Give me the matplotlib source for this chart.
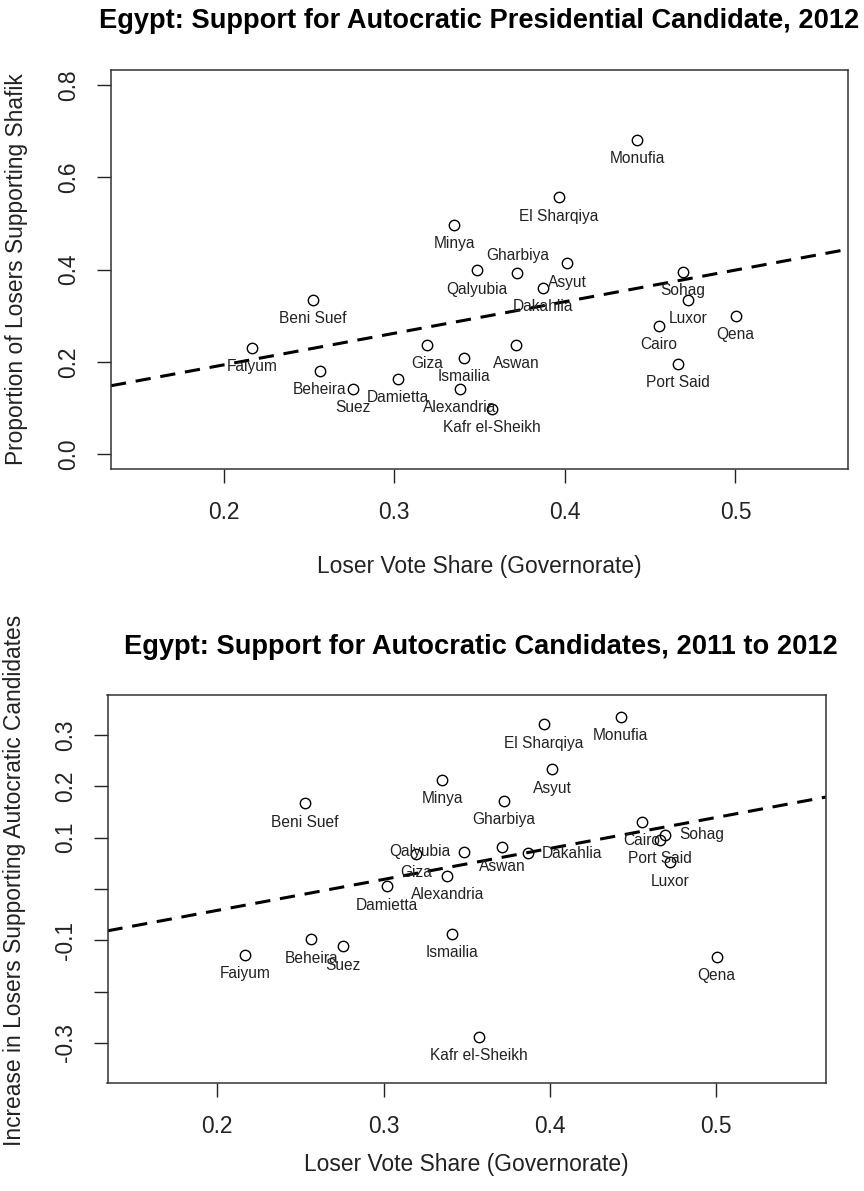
import numpy as np
import matplotlib.pyplot as plt

plt.rcParams['font.family'] = ['Liberation Sans', 'DejaVu Sans']

# %% governorate data
names = ['Faiyum', 'Beni Suef', 'Beheira', 'Suez', 'Damietta', 'Giza', 'Ismailia',
         'Alexandria', 'Kafr el-Sheikh', 'Aswan', 'Minya', 'Qalyubia', 'Gharbiya',
         'Dakahlia', 'Asyut', 'El Sharqiya', 'Monufia', 'Sohag', 'Luxor', 'Cairo',
         'Qena', 'Port Said']
loser_share = [0.2165, 0.2525, 0.2565, 0.2758, 0.3022, 0.3193, 0.3411,
               0.3383, 0.3571, 0.3714, 0.3353, 0.3483, 0.3722,
               0.3870, 0.4013, 0.3964, 0.4426, 0.4693, 0.4725, 0.4551,
               0.5002, 0.4664]
shafik_2012 = [0.230, 0.335, 0.181, 0.141, 0.163, 0.237, 0.209,
               0.141, 0.098, 0.237, 0.496, 0.398, 0.393,
               0.360, 0.413, 0.556, 0.681, 0.395, 0.335, 0.278,
               0.300, 0.195]
change_2011_2012 = [-0.129, 0.167, -0.098, -0.112, 0.005, 0.069, -0.087,
                    0.026, -0.288, 0.081, 0.213, 0.073, 0.171,
                    0.070, 0.233, 0.321, 0.335, 0.106, 0.052, 0.131,
                    -0.132, 0.096]

# where each name sits relative to its point
pos_top = {'Gharbiya': 'above'}
pos_bottom = {'Qalyubia': 'left', 'Dakahlia': 'right', 'Sohag': 'right'}

xticks = [0.2, 0.3, 0.4, 0.5]
yticks_top = [0.0, 0.2, 0.4, 0.6, 0.8]
yticks_bottom = [-0.3, -0.2, -0.1, 0.0, 0.1, 0.2, 0.3]
ytlabels_bottom = ['-0.3', '', '-0.1', '', '0.1', '0.2', '0.3']

W, H = 864, 1191
fig = plt.figure(figsize=(W / 100, H / 100), dpi=100)

def r_range(lo, hi):
    d = (hi - lo) * 0.04
    return lo - d, hi + d

def panel(ax, y, positions):
    x = np.array(loser_share)
    y = np.array(y)
    ax.plot(x, y, 'o', mfc='none', mec='black', ms=7.5, mew=1.0)
    offs = {'below': (0, -13.5, 'center', 'center'),
            'above': (0, 12.5, 'center', 'center'),
            'left': (-10, 0, 'right', 'center'),
            'right': (10, 0, 'left', 'center')}
    for nm, xi, yi in zip(names, x, y):
        dx, dy, ha, va = offs[positions.get(nm, 'below')]
        ax.annotate(nm, (xi, yi), xytext=(dx, dy), textcoords='offset points',
                    ha=ha, va=va, fontsize=11.2, color='#222222')
    # least squares fit line across the plot region
    b, a = np.polyfit(x, y, 1)
    xs = np.array(ax.get_xlim())
    ax.plot(xs, a + b * xs, color='black', lw=2.2, dashes=(5, 3.2))
    ax.set_xlim(xs)
    ax.set_xticks(xticks)
    ax.set_xticklabels(['%.1f' % t for t in xticks])
    ax.tick_params(direction='out', length=10, width=1, labelsize=16.4,
                   colors='#222222')
    ax.tick_params(axis='x', pad=13)
    ax.tick_params(axis='y', pad=12, labelrotation=90)
    for s in ax.spines.values():
        s.set_color('#333333')
        s.set_linewidth(1.1)

# %% top panel
ax1 = fig.add_axes([111 / W, 1 - 469 / H, 737 / W, 399 / H])
ax1.set_xlim(r_range(0.15, 0.55))
ax1.set_ylim(r_range(0.0, 0.8))
panel(ax1, shafik_2012, pos_top)
ax1.set_yticks(yticks_top)
ax1.set_yticklabels(['%.1f' % t for t in yticks_top], va='center')

fig.text(479.5 / W, 1 - 21 / H,
         'Egypt: Support for Autocratic Presidential Candidate, 2012',
         ha='center', va='center', fontsize=19.6, fontweight='bold')
fig.text(479.5 / W, 1 - 567 / H, 'Loser Vote Share (Governorate)',
         ha='center', va='center', fontsize=16.4, color='#222222')
fig.text(17 / W, 1 - 269 / H, 'Proportion of Losers Supporting Shafik',
         ha='center', va='center', rotation=90, fontsize=16.4, color='#222222')

# %% bottom panel
ax2 = fig.add_axes([107.5 / W, 1 - 1083 / H, 718.5 / W, 388 / H])
ax2.set_xlim(r_range(0.15, 0.55))
ax2.set_ylim(r_range(-0.35, 0.35))
panel(ax2, change_2011_2012, pos_bottom)
ax2.set_yticks(yticks_bottom)
ax2.set_yticklabels(ytlabels_bottom, va='center')

fig.text(481 / W, 1 - 647 / H,
         'Egypt: Support for Autocratic Candidates, 2011 to 2012',
         ha='center', va='center', fontsize=19.6, fontweight='bold')
fig.text(466 / W, 1 - 1165 / H, 'Loser Vote Share (Governorate)',
         ha='center', va='center', fontsize=16.4, color='#222222')
fig.text(15 / W, 1 - 880 / H, 'Increase in Losers Supporting Autocratic Candidates',
         ha='center', va='center', rotation=90, fontsize=16.4, color='#222222')

fig.savefig('out.png', dpi=100)
